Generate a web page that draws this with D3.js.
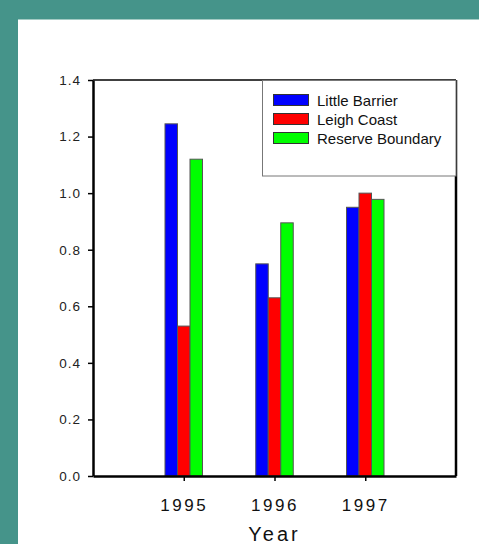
<!DOCTYPE html>
<html>
<head>
<meta charset="utf-8">
<script src="https://cdn.jsdelivr.net/npm/d3@7"></script>
<style>
  html, body { margin: 0; padding: 0; background: #45948a; }
  #chart { width: 479px; height: 544px; }
  text { font-family: Arial, "Liberation Sans", sans-serif; }
</style>
</head>
<body>
<div id="chart"></div>
<script>
// Chart data
const years = [1995, 1996, 1997];
const seriesNames = ["Little Barrier", "Leigh Coast", "Reserve Boundary"];
const littleBarrier = [1.245, 0.75, 0.95];
const leighCoast = [0.53, 0.63, 1.0];
const reserveBoundary = [1.12, 0.895, 0.978];
const seriesColors = ["#0000ff", "#ff0000", "#00ff00"];
const yTicks = [0, 0.2, 0.4, 0.6, 0.8, 1.0, 1.2, 1.4];

const seriesValues = [littleBarrier, leighCoast, reserveBoundary];

const W = 479, H = 544;
const margin = { left: 93, right: 23, top: 80, bottom: 68 };

const svg = d3.select("#chart")
    .append("svg")
    .attr("width", W)
    .attr("height", H);

// teal frame + white panel
svg.append("rect").attr("width", W).attr("height", H).attr("fill", "#45948a");
svg.append("rect").attr("x", 18).attr("y", 19).attr("width", W - 18).attr("height", H - 19).attr("fill", "#fff");
svg.append("line").attr("x1", 18).attr("x2", W).attr("y1", 19.5).attr("y2", 19.5)
    .attr("stroke", "#a3cbc4").attr("stroke-width", 1);

const x = d3.scaleLinear()
    .domain([1994, 1998])
    .range([margin.left, W - margin.right]);

const y = d3.scaleLinear()
    .domain([0, 1.4])
    .range([H - margin.bottom, margin.top]);

const inner = d3.scaleBand()
    .domain(seriesNames)
    .range([-18.75, 18.75]);

// bars
seriesNames.forEach((name, si) => {
    svg.append("g")
        .selectAll("rect")
        .data(years.map((yr, i) => ({ year: yr, value: seriesValues[si][i] })))
        .enter().append("rect")
        .attr("x", d => x(d.year) + inner(name))
        .attr("y", d => y(d.value))
        .attr("width", inner.bandwidth())
        .attr("height", d => y(0) - y(d.value))
        .attr("fill", seriesColors[si])
        .attr("stroke", "#555")
        .attr("stroke-width", 1);
});

// frame top / right
svg.append("line")
    .attr("x1", x.range()[0]).attr("x2", x.range()[1])
    .attr("y1", y(1.4)).attr("y2", y(1.4))
    .attr("stroke", "#000").attr("stroke-width", 1.5);
svg.append("line")
    .attr("x1", x.range()[1]).attr("x2", x.range()[1])
    .attr("y1", y(1.4)).attr("y2", y(0))
    .attr("stroke", "#000").attr("stroke-width", 2.5);

// y axis
const yAxis = svg.append("g")
    .attr("transform", `translate(${margin.left},0)`)
    .call(d3.axisLeft(y).tickValues(yTicks).tickFormat(d3.format(".1f")).tickSize(5).tickSizeOuter(0));
yAxis.select(".domain").attr("stroke", "#000").attr("stroke-width", 2.5);
yAxis.selectAll(".tick line").attr("stroke", "#000").attr("stroke-width", 1.5);
yAxis.selectAll(".tick text")
    .attr("x", -12)
    .attr("font-size", 13.5)
    .attr("letter-spacing", "1px")
    .attr("fill", "#222");

// x axis
const xAxis = svg.append("g")
    .attr("transform", `translate(0,${y(0)})`)
    .call(d3.axisBottom(x).tickValues(years).tickFormat(d3.format("d")).tickSize(5).tickSizeOuter(0));
xAxis.select(".domain").attr("stroke", "#000").attr("stroke-width", 2.5);
xAxis.selectAll(".tick line").attr("stroke", "#000").attr("stroke-width", 1.5);
xAxis.selectAll(".tick text")
    .attr("y", 23)
    .attr("font-size", 17)
    .attr("letter-spacing", "2.5px")
    .attr("fill", "#111");

svg.append("text")
    .attr("x", x(1996))
    .attr("y", 541)
    .attr("text-anchor", "middle")
    .attr("font-size", 20)
    .attr("letter-spacing", "3px")
    .attr("fill", "#111")
    .text("Year");

// legend
const legend = svg.append("g");
legend.append("rect")
    .attr("x", 262.5).attr("y", 80.5)
    .attr("width", 193.5).attr("height", 95.5)
    .attr("fill", "#fff")
    .attr("stroke", "#777")
    .attr("stroke-width", 1);

seriesNames.forEach((name, i) => {
    const row = legend.append("g").attr("transform", `translate(0,${106 + i * 19})`);
    row.append("rect")
        .attr("x", 273.5).attr("y", -11.5)
        .attr("width", 35).attr("height", 11)
        .attr("fill", seriesColors[i])
        .attr("stroke", "#333")
        .attr("stroke-width", 1);
    row.append("text")
        .attr("x", 317)
        .attr("y", 0)
        .attr("font-size", 15)
        .attr("fill", "#111")
        .text(name);
});
</script>
</body>
</html>
